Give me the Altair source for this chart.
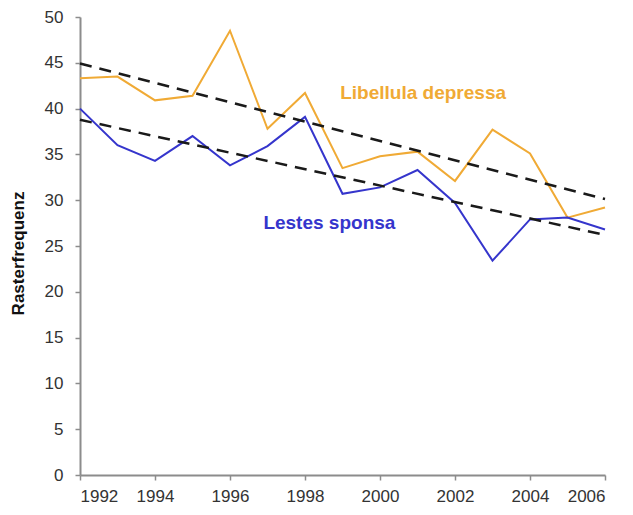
import altair as alt
import pandas as pd

years = list(range(1992, 2007))
libellula = [43.3, 43.5, 40.9, 41.4, 48.5, 37.8, 41.7, 33.5, 34.8, 35.3, 32.1, 37.7, 35.1, 28.1, 29.2]
lestes = [40.0, 36.0, 34.3, 37.0, 33.8, 35.9, 39.1, 30.7, 31.4, 33.3, 29.7, 23.4, 27.9, 28.1, 26.8]
series_names = ["Libellula depressa", "Lestes sponsa"]
series_colors = ["#F0AA35", "#3535CC"]
x_ticks = list(range(1992, 2007, 2))
y_ticks = list(range(0, 51, 5))
label_x = [2001.15, 1998.65]
label_y = [41.7, 27.5]

df = pd.DataFrame({
    "Jahr": years + years,
    "Wert": libellula + lestes,
    "Art": [series_names[0]] * len(years) + [series_names[1]] * len(years),
})
labels = pd.DataFrame({"Jahr": label_x, "Wert": label_y, "Art": series_names})

FONT = "Liberation Sans"

x = alt.X("Jahr:Q",
          scale=alt.Scale(domain=[1992, 2006], nice=False, zero=False),
          axis=alt.Axis(values=x_ticks, format="d", title=None,
                        labelFontSize=17, labelPadding=8, tickSize=5))
y = alt.Y("Wert:Q",
          scale=alt.Scale(domain=[0, 50], nice=False),
          axis=alt.Axis(values=y_ticks, title="Rasterfrequenz",
                        labelFontSize=17, labelPadding=12, tickSize=5,
                        titleAngle=270, titleX=-62, titleY=236,
                        titleBaseline="middle", titleAlign="center"))
color = alt.Color("Art:N", scale=alt.Scale(domain=series_names, range=series_colors), legend=None)

lines = alt.Chart(df).mark_line(strokeWidth=2).encode(x=x, y=y, color=color)

trend = (alt.Chart(df)
         .transform_regression("Jahr", "Wert", groupby=["Art"])
         .mark_line(color="#1a1a1a", strokeDash=[12, 8], strokeWidth=2.5)
         .encode(x="Jahr:Q", y="Wert:Q", detail="Art:N"))

text = (alt.Chart(labels)
        .mark_text(font=FONT, fontSize=19, fontWeight="bold")
        .encode(x="Jahr:Q", y="Wert:Q", color=color, text="Art:N"))

chart = (alt.layer(lines, trend, text)
         .properties(width=525, height=458,
                     padding={"left": 72, "top": 9, "right": 20, "bottom": 32},
                     autosize=alt.AutoSizeParams(type="none"))
         .configure_view(stroke=None)
         .configure_axis(grid=False, domainColor="#8c8c8c", domainWidth=2,
                         tickColor="#8c8c8c", tickWidth=1.5,
                         labelFont=FONT, labelColor="#333333",
                         titleFont=FONT, titleFontSize=17, titleFontWeight="bold",
                         titleColor="#111111"))

chart.save("out.html", embed_options={"renderer": "svg", "actions": False})
